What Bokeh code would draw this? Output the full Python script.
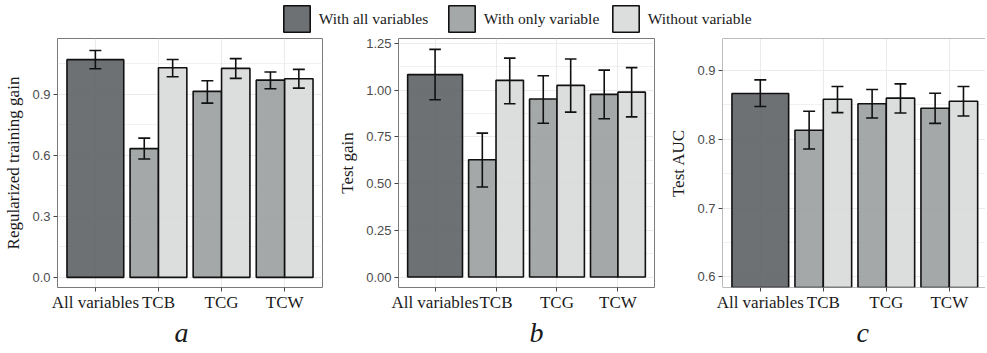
from bokeh.plotting import figure
from bokeh.layouts import column, row
from bokeh.models import (Range1d, FixedTicker, Legend, LegendItem, Title, Span,
                          PrintfTickFormatter)
from bokeh.embed import file_html
from bokeh.resources import INLINE

# ---------------- data ----------------
categories = ["All variables", "TCB", "TCG", "TCW"]
variables = ["TCB", "TCG", "TCW"]
series_names = ["With all variables", "With only variable", "Without variable"]

# panel a: regularized training gain
train_all = [1.071]
train_all_lo = [1.026]
train_all_hi = [1.116]
train_only = [0.633, 0.915, 0.970]
train_only_lo = [0.582, 0.857, 0.928]
train_only_hi = [0.685, 0.967, 1.010]
train_without = [1.031, 1.028, 0.977]
train_without_lo = [0.987, 0.979, 0.931]
train_without_hi = [1.072, 1.076, 1.023]

# panel b: test gain
test_all = [1.083]
test_all_lo = [0.948]
test_all_hi = [1.218]
test_only = [0.627, 0.952, 0.977]
test_only_lo = [0.482, 0.823, 0.847]
test_only_hi = [0.770, 1.077, 1.107]
test_without = [1.052, 1.025, 0.989]
test_without_lo = [0.927, 0.882, 0.857]
test_without_hi = [1.171, 1.166, 1.120]

# panel c: test AUC
auc_all = [0.8666]
auc_all_lo = [0.8477]
auc_all_hi = [0.8864]
auc_only = [0.8131, 0.8516, 0.8452]
auc_only_lo = [0.7859, 0.8310, 0.8232]
auc_only_hi = [0.8407, 0.8724, 0.8670]
auc_without = [0.8583, 0.8598, 0.8554]
auc_without_lo = [0.8388, 0.8383, 0.8339]
auc_without_hi = [0.8768, 0.8806, 0.8768]

ticks_a = [0.0, 0.3, 0.6, 0.9]
ticks_b = [0.0, 0.25, 0.5, 0.75, 1.0, 1.25]
ticks_c = [0.6, 0.7, 0.8, 0.9]

# ---------------- style ----------------
COLORS = ["#5e6265", "#9b9e9f", "#d8dad9"]
FILL_ALPHA = 0.9
OUTLINE = "#111111"
SERIF = "Liberation Serif"
SANS = "Liberation Sans"
GRID = "#ebebeb"
FRAME = "#7a7a7a"
PANEL_H = 312
BAR_W = 0.9
CAP_W = 0.19


def make_panel(width, left, right, x_end, y_range, ticks, fmt, ylabel,
               allv, allv_lo, allv_hi, only, only_lo, only_hi,
               wo, wo_lo, wo_hi, letter, letter_dx, full_frame=True):
    p = figure(width=width, height=PANEL_H, x_range=Range1d(0.4, x_end),
               y_range=Range1d(*y_range), toolbar_location=None,
               output_backend="svg", min_border_left=left, min_border_right=right,
               min_border_top=1, min_border_bottom=62)
    p.background_fill_color = "white"
    p.border_fill_color = "white"
    if full_frame:
        p.outline_line_color = FRAME
        p.outline_line_width = 1
    else:
        p.outline_line_color = None

    xt = FixedTicker(ticks=[i + 1 for i in range(len(categories))], minor_ticks=[])
    step = ticks[1] - ticks[0]
    minor = [ticks[0] - step / 2] + [t + step / 2 for t in ticks]
    yt = FixedTicker(ticks=ticks, minor_ticks=minor)
    p.xaxis.ticker = xt
    p.xgrid.ticker = xt
    p.yaxis.ticker = yt
    p.ygrid.ticker = yt
    p.xaxis.major_label_overrides = {i + 1: c for i, c in enumerate(categories)}
    p.yaxis.formatter = PrintfTickFormatter(format=fmt)

    for ax in (p.xaxis, p.yaxis):
        ax.axis_line_color = None
        ax.major_tick_in = 0
        ax.major_tick_out = 4
        ax.major_tick_line_color = "#444444"
        ax.major_tick_line_width = 1
        ax.minor_tick_line_color = None
    p.yaxis.major_label_standoff = 3
    p.xaxis.major_label_standoff = 1
    p.xaxis.major_label_text_font = SERIF
    p.xaxis.major_label_text_font_size = "17px"
    p.xaxis.major_label_text_color = "#1a1a1a"
    p.yaxis.major_label_text_font = SANS
    p.yaxis.major_label_text_font_size = "13px"
    p.yaxis.major_label_text_color = "#4d4d4d"
    p.yaxis.axis_label = ylabel
    p.yaxis.axis_label_text_font = SERIF
    p.yaxis.axis_label_text_font_style = "normal"
    p.yaxis.axis_label_text_font_size = "17px"
    p.yaxis.axis_label_text_color = "#1a1a1a"
    p.yaxis.axis_label_standoff = 6

    p.xgrid.grid_line_color = GRID
    p.xgrid.grid_line_width = 1.1
    p.ygrid.grid_line_color = GRID
    p.ygrid.grid_line_width = 1.1
    p.ygrid.minor_grid_line_color = GRID
    p.ygrid.minor_grid_line_width = 0.7

    x_all = [categories.index("All variables") + 1]
    x_var = [categories.index(v) + 1 for v in variables]
    x_only = [x - BAR_W / 4 for x in x_var]
    x_wo = [x + BAR_W / 4 for x in x_var]

    bars = [
        (x_all, allv, BAR_W, COLORS[0]),
        (x_only, only, BAR_W / 2, COLORS[1]),
        (x_wo, wo, BAR_W / 2, COLORS[2]),
    ]
    for xs, tops, w, col in bars:
        p.vbar(x=xs, top=tops, bottom=0, width=w, fill_color=col, fill_alpha=FILL_ALPHA,
               line_color=OUTLINE, line_width=1.6)

    errs = [(x_all, allv_lo, allv_hi), (x_only, only_lo, only_hi), (x_wo, wo_lo, wo_hi)]
    for xs, lo, hi in errs:
        p.segment(x0=xs, x1=xs, y0=lo, y1=hi, line_color=OUTLINE, line_width=1.6)
        p.segment(x0=[x - CAP_W / 2 for x in xs], x1=[x + CAP_W / 2 for x in xs],
                  y0=hi, y1=hi, line_color=OUTLINE, line_width=1.6)
        p.segment(x0=[x - CAP_W / 2 for x in xs], x1=[x + CAP_W / 2 for x in xs],
                  y0=lo, y1=lo, line_color=OUTLINE, line_width=1.6)

    if not full_frame:
        p.add_layout(Span(location=y_range[0], dimension="width", line_color=FRAME, line_width=1))
        p.add_layout(Span(location=y_range[1], dimension="width", line_color=FRAME, line_width=1))
        p.add_layout(Span(location=0.4, dimension="height", line_color=FRAME, line_width=1))

    p.add_layout(Title(text=letter, align="left", offset=letter_dx, standoff=1,
                       text_font=SERIF, text_font_style="italic", text_font_size="28px",
                       text_color="#1a1a1a"), "below")
    return p, (x_all, allv)


pa, ref_a = make_panel(332, 57, 10, 4.6, (-0.05, 1.175), ticks_a, "%.1f",
                       "Regularized training gain",
                       train_all, train_all_lo, train_all_hi,
                       train_only, train_only_lo, train_only_hi,
                       train_without, train_without_lo, train_without_hi, "a", 117)
pb, _ = make_panel(330, 66, 8, 4.6, (-0.056, 1.276), ticks_b, "%.2f", "Test gain",
                   test_all, test_all_lo, test_all_hi,
                   test_only, test_only_lo, test_only_hi,
                   test_without, test_without_lo, test_without_hi, "b", 131)
pc, _ = make_panel(323, 60, 0, 0.4 + 263 / 63, (0.5846, 0.9465), ticks_c, "%.1f", "Test AUC",
                   auc_all, auc_all_lo, auc_all_hi,
                   auc_only, auc_only_lo, auc_only_hi,
                   auc_without, auc_without_lo, auc_without_hi, "c", 134, full_frame=False)

# ---------------- legend strip ----------------
leg = figure(width=985, height=37, x_range=Range1d(0, 1), y_range=Range1d(0, 1),
             toolbar_location=None, output_backend="svg", x_axis_location=None,
             y_axis_location=None, min_border=0)
leg.grid.visible = False
leg.outline_line_color = None
leg.background_fill_color = "white"
leg.border_fill_color = "white"
legend_x = [279.7, 444.7, 608.7]
for name, col, lx in zip(series_names, COLORS, legend_x):
    # hidden renderer (not drawn in the strip); only provides the legend swatch
    r = leg.vbar(x=ref_a[0], top=ref_a[1], width=0.1, fill_color=col, fill_alpha=FILL_ALPHA,
                 line_color=OUTLINE, line_width=1.6, visible=False)
    lg = Legend(items=[LegendItem(label=name, renderers=[r])], location=(lx, 1.7),
                orientation="horizontal", glyph_width=33, glyph_height=33,
                label_standoff=6, padding=0, margin=0, border_line_color=None,
                background_fill_alpha=0, label_text_font=SERIF,
                label_text_font_size="15.5px", label_text_color="#1a1a1a")
    leg.add_layout(lg, "center")

layout = column(leg, row(pa, pb, pc))
open("out.html", "w").write(file_html(layout, INLINE))
